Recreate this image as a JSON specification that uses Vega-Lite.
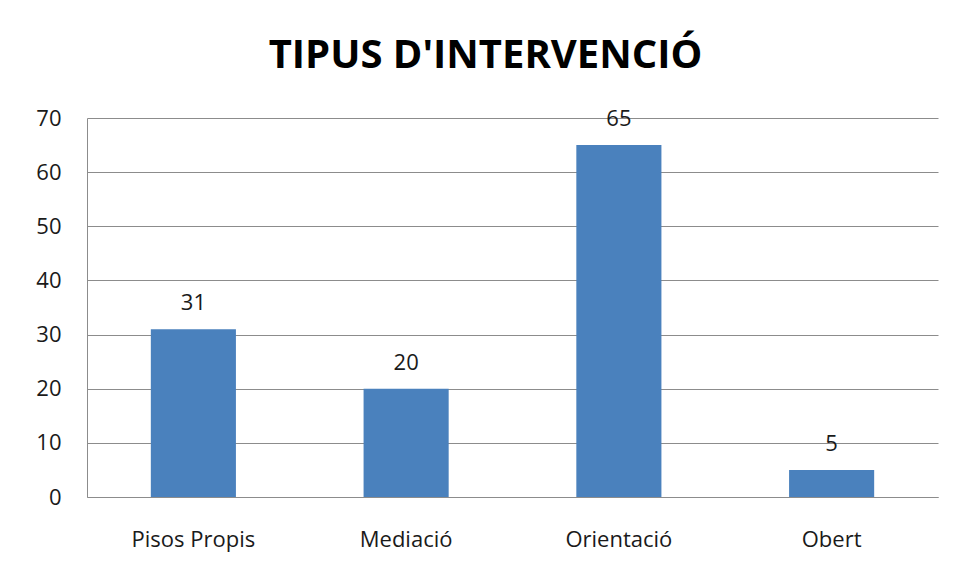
{
  "$schema": "https://vega.github.io/schema/vega-lite/v6.json",
  "width": 851,
  "height": 379,
  "autosize": {"type": "none"},
  "padding": {"left": 87, "top": 118, "right": 16, "bottom": 80},
  "background": "white",
  "title": {
    "text": "TIPUS D'INTERVENCIÓ",
    "font": "Open Sans",
    "fontSize": 40,
    "fontWeight": "bold",
    "color": "#000000",
    "anchor": "middle",
    "dx": -27,
    "offset": 31
  },
  "data": {
    "values": [
      {"tipus": "Pisos Propis", "valor": 31},
      {"tipus": "Mediació", "valor": 20},
      {"tipus": "Orientació", "valor": 65},
      {"tipus": "Obert", "valor": 5}
    ]
  },
  "config": {
    "view": {"stroke": null},
    "axis": {
      "labelFont": "Open Sans",
      "labelFontSize": 22,
      "labelColor": "#1a1a1a",
      "domainColor": "#8c8c8c",
      "gridColor": "#8c8c8c",
      "ticks": false,
      "title": null
    }
  },
  "encoding": {
    "x": {
      "field": "tipus",
      "type": "nominal",
      "sort": null,
      "scale": {"paddingInner": 0.6, "paddingOuter": 0.3},
      "axis": {"labelAngle": 0, "labelPadding": 32, "grid": false, "domainWidth": 1}
    },
    "y": {
      "field": "valor",
      "type": "quantitative",
      "scale": {"domain": [0, 70]},
      "axis": {"values": [0, 10, 20, 30, 40, 50, 60, 70], "labelPadding": 26, "grid": true, "domainWidth": 1}
    }
  },
  "layer": [
    {"mark": {"type": "bar", "color": "#4a81bd"}},
    {
      "mark": {"type": "text", "font": "Open Sans", "fontSize": 22, "color": "#1a1a1a", "baseline": "alphabetic", "dy": -19},
      "encoding": {"text": {"field": "valor", "type": "quantitative"}}
    }
  ]
}
